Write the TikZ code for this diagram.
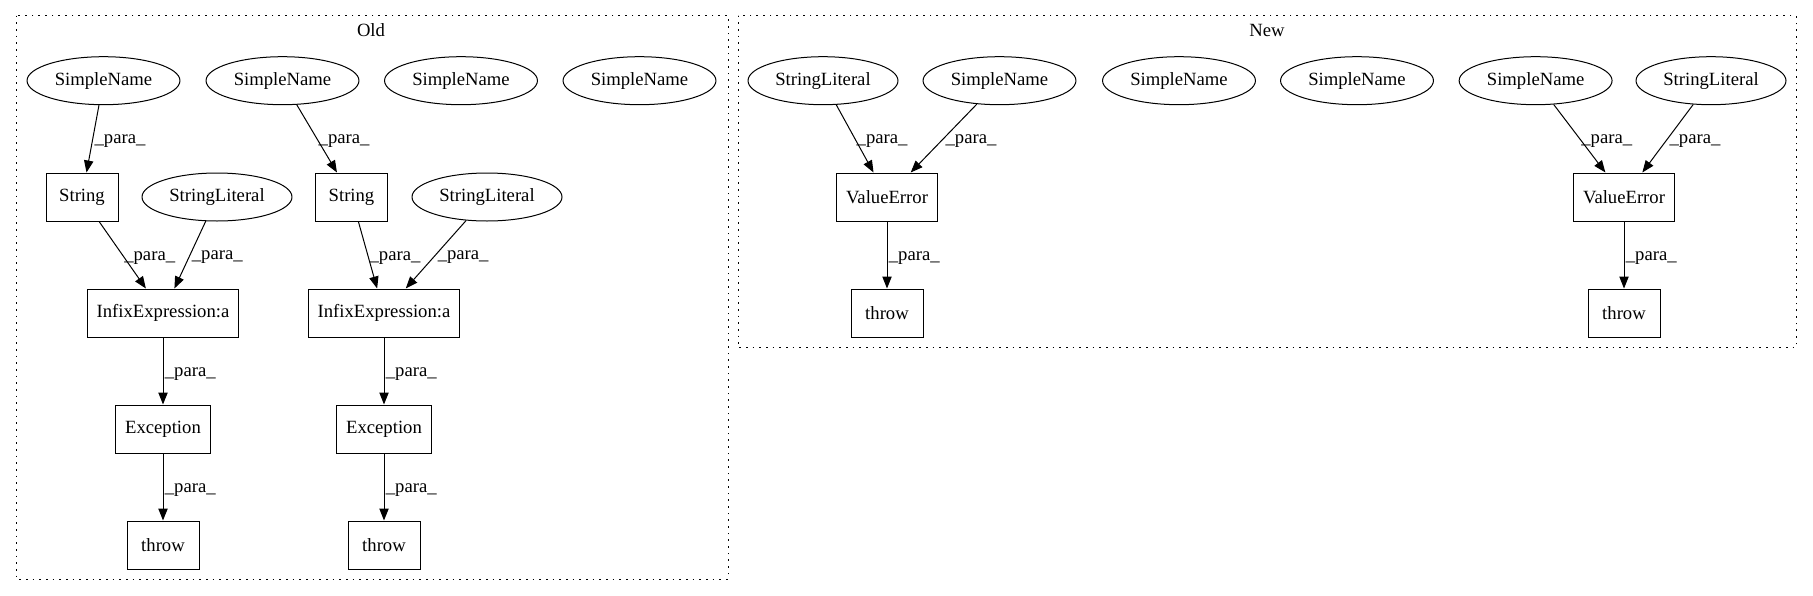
\documentclass[tikz,border=0pt]{standalone}
\usepackage{fontspec}
\setmainfont{Liberation Serif}
\usetikzlibrary{arrows.meta, shapes.geometric}

\tikzset{
	box/.style={draw, rectangle, minimum width=54pt, minimum height=36pt, inner xsep=7pt},
	oval/.style={draw, ellipse, minimum height=36pt, inner xsep=4pt},
	para/.style={-{Triangle[length=9pt, width=7pt]}},
	lbl/.style={midway, right, inner sep=1pt, yshift=-2pt},
	cluster/.style={dash pattern=on 1.2pt off 3.8pt}
}

\begin{document}
\begin{tikzpicture}[x=0.75pt, y=-0.75pt, font=\fontsize{14}{16}\selectfont, line width=0.75pt]
			\def\ra{80.7};
			\def\rb{197};
			\def\rc{313};
			\def\rd{429};
			\def\re{545};
			
			\useasboundingbox (0,0) rectangle (1813,596);
			
			% Old
			\draw [cluster] (16,15.7) rectangle (728,579);
			\node (oldtitle) at (371,30) {Old};
			
			\node [oval] (osn1) at (103.5,\ra) {SimpleName};
			\node [oval] (osn2) at (282.5,\ra) {SimpleName};
			\node [oval] (osn3) at (461,\ra) {SimpleName};
			\node [oval] (osn4) at (639.5,\ra) {SimpleName};
			
			\node [box] (ostr1) at (82,\rb) {String};
			\node [oval] (osl1) at (217,\rb) {StringLiteral};
			\node [box] (ostr2) at (351.5,\rb) {String};
			\node [oval] (osl2) at (487,\rb) {StringLiteral};
			
			\node [box] (oinf1) at (163,\rc) {InfixExpression:a};
			\node [box] (oinf2) at (384,\rc) {InfixExpression:a};
			\node [box] (oexc1) at (163,\rd) {Exception};
			\node [box] (oexc2) at (384,\rd) {Exception};
			\node [box] (othr1) at (163,\re) {throw};
			\node [box] (othr2) at (384,\re) {throw};
			
			\draw [para] (osn1) -- (ostr1) node [lbl] {\_para\_};
			\draw [para] (osn2) -- (ostr2) node [lbl] {\_para\_};
			\draw [para] (ostr1) -- (oinf1) node [lbl] {\_para\_};
			\draw [para] (osl1) -- (oinf1) node [lbl] {\_para\_};
			\draw [para] (ostr2) -- (oinf2) node [lbl] {\_para\_};
			\draw [para] (osl2) -- (oinf2) node [lbl] {\_para\_};
			\draw [para] (oinf1) -- (oexc1) node [lbl] {\_para\_};
			\draw [para] (oinf2) -- (oexc2) node [lbl] {\_para\_};
			\draw [para] (oexc1) -- (othr1) node [lbl] {\_para\_};
			\draw [para] (oexc2) -- (othr2) node [lbl] {\_para\_};
			
			% New
			\draw [cluster] (738,15.7) rectangle (1796,347.7);
			\node (newtitle) at (1267,30) {New};
			
			\node [oval] (nsl1) at (823,\ra) {StringLiteral};
			\node [oval] (nsn1) at (999.5,\ra) {SimpleName};
			\node [oval] (nsn2) at (1179,\ra) {SimpleName};
			\node [oval] (nsn3) at (1357,\ra) {SimpleName};
			\node [oval] (nsn4) at (1535.6,\ra) {SimpleName};
			\node [oval] (nsl2) at (1711,\ra) {StringLiteral};
			
			\node [box] (nve1) at (887,\rb) {ValueError};
			\node [box] (nve2) at (1624,\rb) {ValueError};
			\node [box] (nthr1) at (887,\rc) {throw};
			\node [box] (nthr2) at (1624,\rc) {throw};
			
			\draw [para] (nsl1) -- (nve1) node [lbl] {\_para\_};
			\draw [para] (nsn1) -- (nve1) node [lbl] {\_para\_};
			\draw [para] (nsn4) -- (nve2) node [lbl] {\_para\_};
			\draw [para] (nsl2) -- (nve2) node [lbl] {\_para\_};
			\draw [para] (nve1) -- (nthr1) node [lbl] {\_para\_};
			\draw [para] (nve2) -- (nthr2) node [lbl] {\_para\_};
		\end{tikzpicture}
\end{document}
